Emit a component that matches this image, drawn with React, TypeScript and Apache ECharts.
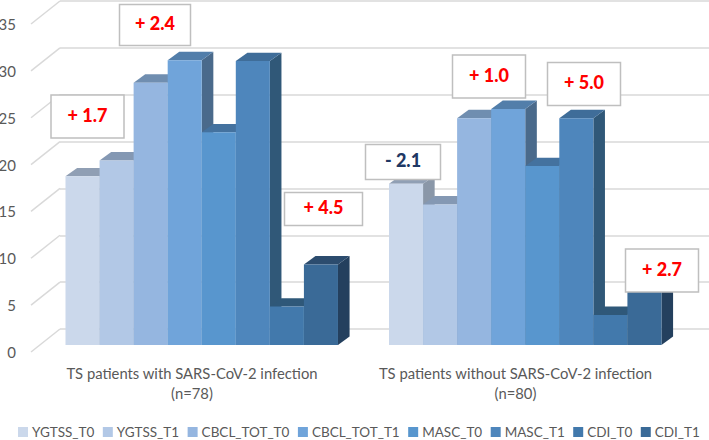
import React, { useEffect, useRef } from "react";
import * as echarts from "echarts";

const categories = ["TS patients with SARS-CoV-2 infection\n(n=78)", "TS patients without SARS-CoV-2 infection\n(n=80)"];
const seriesNames = ["YGTSS_T0", "YGTSS_T1", "CBCL_TOT_T0", "CBCL_TOT_T1", "MASC_T0", "MASC_T1", "CDI_T0", "CDI_T1"];
const ygtssT0 = [18.0, 17.2];
const ygtssT1 = [19.7, 15.0];
const cbclT0 = [28.0, 24.2];
const cbclT1 = [30.4, 25.2];
const mascT0 = [22.7, 19.1];
const mascT1 = [30.3, 24.2];
const cdiT0 = [4.1, 3.2];
const cdiT1 = [8.6, 5.9];
const allValues = [ygtssT0, ygtssT1, cbclT0, cbclT1, mascT0, mascT1, cdiT0, cdiT1];
const yTicks = [0, 5, 10, 15, 20, 25, 30, 35];

const frontColors = ["#CBD8EB", "#B2C8E6", "#95B6E0", "#70A4DA", "#5896CE", "#4E86BC", "#4279AC", "#3A6A97"];
const topColors = ["#909FB4", "#8498B3", "#708EB0", "#527EAA", "#44729F", "#3F6D99", "#2F5879", "#2C4C6E"];
const sideColors = ["#8A97A8", "#7E90A8", "#68839F", "#4A6A8B", "#3E6488", "#305878", "#2B5070", "#24405E"];

const callouts = [
  { text: "+ 1.7", x: 51, y: 95, w: 73, h: 43, color: "#FF0000" },
  { text: "+ 2.4", x: 119.5, y: 4.5, w: 71, h: 41, color: "#FF0000" },
  { text: "+ 4.5", x: 284.5, y: 192.5, w: 78, h: 33, color: "#FF0000" },
  { text: "- 2.1", x: 365.5, y: 144.5, w: 75, h: 35, color: "#1F3864" },
  { text: "+ 1.0", x: 452.5, y: 55, w: 73, h: 43, color: "#FF0000" },
  { text: "+ 5.0", x: 547.5, y: 62.5, w: 73, h: 43, color: "#FF0000" },
  { text: "+ 2.7", x: 625.5, y: 249, w: 73, h: 43, color: "#FF0000" },
];

const FONT = "Lato";
const BAR_W = 34.06;
const GROUP_OFFSET = -126.5;
const DEPTH_X = 11.6;
const DEPTH_Y = 8.4;
const GRID_COLOR = "#D9D9D9";
const TEXT_COLOR = "#595959";

export default function App() {
  const ref = useRef<HTMLDivElement>(null);
  useEffect(() => {
    const chart = echarts.init(ref.current!, null, { renderer: "svg" });
    const barSeries = seriesNames.map((name, s) => ({
      type: "custom",
      name,
      xAxisIndex: 1,
      yAxisIndex: 1,
      z: 5,
      itemStyle: { color: frontColors[s] },
      data: allValues[s].map((v, i) => [i, v]),
      renderItem: (_p: any, api: any) => {
        const top = api.coord([api.value(0), api.value(1)]);
        const base = api.coord([api.value(0), 0]);
        const x0 = top[0] + GROUP_OFFSET + s * BAR_W;
        const x1 = x0 + BAR_W;
        const yT = top[1];
        const yB = base[1];
        return {
          type: "group",
          children: [
            { type: "polygon", shape: { points: [[x1, yT], [x1 + DEPTH_X, yT - DEPTH_Y], [x1 + DEPTH_X, yB - DEPTH_Y], [x1, yB]] }, style: { fill: sideColors[s] } },
            { type: "polygon", shape: { points: [[x0, yT], [x0 + DEPTH_X, yT - DEPTH_Y], [x1 + DEPTH_X, yT - DEPTH_Y], [x1, yT]] }, style: { fill: topColors[s] } },
            { type: "rect", shape: { x: x0, y: yT, width: BAR_W, height: yB - yT }, style: { fill: frontColors[s] } },
          ],
        };
      },
    }));
    const graphics: any[] = [];
    callouts.forEach((c) => {
      graphics.push({
        type: "rect",
        z: 100,
        shape: { x: c.x, y: c.y, width: c.w, height: c.h },
        style: { fill: "#FFFFFF", stroke: "#BFBFBF", lineWidth: 1.5 },
      });
      graphics.push({
        type: "text",
        z: 101,
        x: c.x + c.w / 2,
        y: c.y + c.h / 2 - 2,
        style: {
          text: c.text,
          fill: c.color,
          font: `900 18px ${FONT}`,
          textAlign: "center",
          textVerticalAlign: "middle",
        },
      });
    });
    chart.setOption({
      animation: false,
      backgroundColor: "#FFFFFF",
      legend: {
        data: seriesNames,
        left: 13,
        top: 420,
        width: 700,
        itemWidth: 10,
        itemHeight: 10,
        itemGap: 8.5,
        icon: "rect",
        textStyle: { color: TEXT_COLOR, fontFamily: FONT, fontSize: 13.5, padding: [0, 0, 0, -1] },
      },
      grid: [
        { left: 60, right: 0, top: 1, height: 328, outerBoundsMode: "none" },
        { left: 30.25, width: 647, top: 17.05, height: 327.95, outerBoundsMode: "none" },
        { left: 31, width: 29, top: 24, height: 328, outerBoundsMode: "none" },
      ],
      xAxis: [
        { gridIndex: 0, type: "value", show: false, min: 0, max: 1 },
        {
          gridIndex: 1,
          type: "category",
          data: categories,
          axisLine: { show: false },
          axisTick: { show: false },
          axisLabel: { margin: 18, color: TEXT_COLOR, fontFamily: FONT, fontSize: 14.8, lineHeight: 20, interval: 0 },
        },
        { gridIndex: 2, type: "value", show: false, min: 0, max: 1 },
      ],
      yAxis: [
        {
          gridIndex: 0,
          type: "value",
          min: 0,
          max: 35,
          interval: 5,
          axisLine: { show: false },
          axisTick: { show: false },
          axisLabel: { show: false },
          splitLine: { show: true, lineStyle: { color: GRID_COLOR, width: 1.5 } },
        },
        { gridIndex: 1, type: "value", min: 0, max: 35, interval: 5, show: false },
        {
          gridIndex: 2,
          type: "value",
          min: 0,
          max: 35,
          interval: 5,
          axisLine: { show: false },
          axisTick: { show: false },
          splitLine: { show: false },
          axisLabel: { margin: 15, color: TEXT_COLOR, fontFamily: FONT, fontSize: 15 },
        },
      ],
      series: [
        {
          type: "custom",
          xAxisIndex: 2,
          yAxisIndex: 2,
          silent: true,
          z: 1,
          data: yTicks.map((t) => [t]),
          renderItem: (_p: any, api: any) => {
            const a = api.coord([0, api.value(0)]);
            const b = api.coord([1, api.value(0)]);
            return {
              type: "line",
              shape: { x1: a[0], y1: a[1], x2: b[0], y2: a[1] - 23 },
              style: { stroke: GRID_COLOR, lineWidth: 1.5 },
            };
          },
        },
        ...barSeries,
      ],
      graphic: graphics,
    });
    return () => chart.dispose();
  }, []);
  return <div ref={ref} style={{ position: "fixed", left: 0, top: 0, width: 709, height: 440 }} />;
}
